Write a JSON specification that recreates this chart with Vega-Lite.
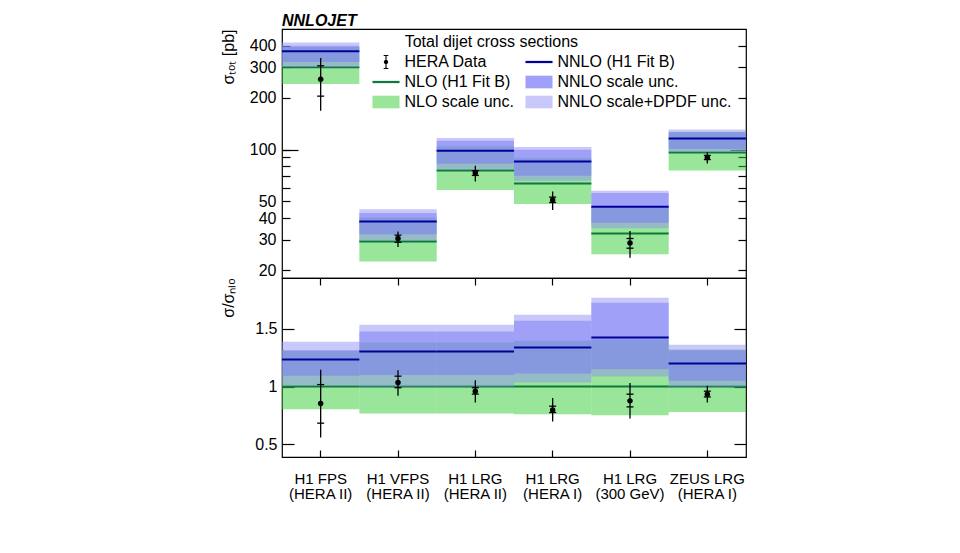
{
  "$schema": "https://vega.github.io/schema/vega-lite/v6.json",
  "background": "white",
  "padding": {"left": 219, "top": 12, "right": 5, "bottom": 5},
  "config": {
    "font": "Liberation Sans",
    "view": {"stroke": "black", "strokeWidth": 1.2},
    "axis": {"labelFont": "Liberation Sans", "labelFontSize": 16, "labelColor": "black", "tickColor": "black", "tickWidth": 1.2, "titleFont": "Liberation Sans", "titleFontSize": 16, "titleFontWeight": "normal", "titleColor": "black", "grid": false, "domain": false, "labelOverlap": false}
  },
  "datasets": {
    "bins": [
      {"bin": "H1 FPS (HERA II)", "nlo": 300, "nlo_lo": 240, "nlo_hi": 393, "nnlo": 372, "sc_lo": 322, "sc_hi": 400, "tot_lo": 301, "tot_hi": 418, "dat": 256, "st_lo": 204, "st_hi": 306, "er_lo": 168, "er_hi": 340,
       "r_nlo": 1, "r_nlo_lo": 0.804, "r_nlo_hi": 1.31, "r_nnlo": 1.234, "r_sc_lo": 1.093, "r_sc_hi": 1.315, "r_tot_lo": 1.006, "r_tot_hi": 1.387, "r_dat": 0.853, "r_st_lo": 0.683, "r_st_hi": 1.017, "r_er_lo": 0.558, "r_er_hi": 1.145},
      {"bin": "H1 VFPS (HERA II)", "nlo": 29.3, "nlo_lo": 22.4, "nlo_hi": 40.4, "nnlo": 38.3, "sc_lo": 32.3, "sc_hi": 42.9, "tot_lo": 29.6, "tot_hi": 45.1, "dat": 30.5, "st_lo": 29.0, "st_hi": 31.9, "er_lo": 27.2, "er_hi": 33.5,
       "r_nlo": 1, "r_nlo_lo": 0.766, "r_nlo_hi": 1.381, "r_nnlo": 1.303, "r_sc_lo": 1.099, "r_sc_hi": 1.477, "r_tot_lo": 1.0, "r_tot_hi": 1.535, "r_dat": 1.035, "r_st_lo": 0.99, "r_st_hi": 1.09, "r_er_lo": 0.92, "r_er_hi": 1.142},
      {"bin": "H1 LRG (HERA II)", "nlo": 75.7, "nlo_lo": 58.2, "nlo_hi": 104.5, "nnlo": 98.4, "sc_lo": 82.8, "sc_hi": 112.5, "tot_lo": 76.4, "tot_hi": 116.6, "dat": 73.1, "st_lo": 70.8, "st_hi": 75.4, "er_lo": 65.3, "er_hi": 80.5,
       "r_nlo": 1, "r_nlo_lo": 0.766, "r_nlo_hi": 1.381, "r_nnlo": 1.303, "r_sc_lo": 1.099, "r_sc_hi": 1.477, "r_tot_lo": 1.0, "r_tot_hi": 1.535, "r_dat": 0.96, "r_st_lo": 0.935, "r_st_hi": 0.99, "r_er_lo": 0.861, "r_er_hi": 1.055},
      {"bin": "H1 LRG (HERA I)", "nlo": 63.6, "nlo_lo": 48.3, "nlo_hi": 89, "nnlo": 85.3, "sc_lo": 70.6, "sc_hi": 99.8, "tot_lo": 65.9, "tot_hi": 103.5, "dat": 51.0, "st_lo": 49.3, "st_hi": 53.0, "er_lo": 44.6, "er_hi": 57.1,
       "r_nlo": 1, "r_nlo_lo": 0.761, "r_nlo_hi": 1.396, "r_nnlo": 1.338, "r_sc_lo": 1.113, "r_sc_hi": 1.569, "r_tot_lo": 1.035, "r_tot_hi": 1.621, "r_dat": 0.798, "r_st_lo": 0.775, "r_st_hi": 0.83, "r_er_lo": 0.697, "r_er_hi": 0.9},
      {"bin": "H1 LRG (300 GeV)", "nlo": 32.6, "nlo_lo": 24.7, "nlo_hi": 46, "nnlo": 46.6, "sc_lo": 37.6, "sc_hi": 55.9, "tot_lo": 35.0, "tot_hi": 57.7, "dat": 28.7, "st_lo": 26.8, "st_hi": 30.5, "er_lo": 23.6, "er_hi": 33.7,
       "r_nlo": 1, "r_nlo_lo": 0.752, "r_nlo_hi": 1.41, "r_nnlo": 1.425, "r_sc_lo": 1.15, "r_sc_hi": 1.725, "r_tot_lo": 1.087, "r_tot_hi": 1.769, "r_dat": 0.876, "r_st_lo": 0.824, "r_st_hi": 0.934, "r_er_lo": 0.723, "r_er_hi": 1.03},
      {"bin": "ZEUS LRG (HERA I)", "nlo": 96.2, "nlo_lo": 75.5, "nlo_hi": 127, "nnlo": 116, "sc_lo": 100.8, "sc_hi": 126, "tot_lo": 96.8, "tot_hi": 130.5, "dat": 90, "st_lo": 87.5, "st_hi": 92.5, "er_lo": 83, "er_hi": 96.5,
       "r_nlo": 1, "r_nlo_lo": 0.78, "r_nlo_hi": 1.32, "r_nnlo": 1.2, "r_sc_lo": 1.05, "r_sc_hi": 1.315, "r_tot_lo": 1.0, "r_tot_hi": 1.361, "r_dat": 0.934, "r_st_lo": 0.91, "r_st_hi": 0.96, "r_er_lo": 0.861, "r_er_hi": 1.006}
    ],
    "series": [
      {"series": "HERA Data"}, {"series": "NLO (H1 Fit B)"}, {"series": "NLO scale unc."},
      {"series": "NNLO (H1 Fit B)"}, {"series": "NNLO scale unc."}, {"series": "NNLO scale+DPDF unc."}
    ]
  },
  "data": {"name": "bins"},
  "vconcat": [
    {
      "width": 464,
      "height": 249,
      "title": {"text": "NNLOJET", "anchor": "start", "frame": "group", "font": "Liberation Sans", "fontSize": 16, "fontWeight": "bold", "fontStyle": "italic", "color": "black", "offset": -13.3, "baseline": "alphabetic"},
      "encoding": {"x": {"field": "bin", "type": "nominal", "sort": null, "scale": {"paddingInner": 0, "paddingOuter": 0}, "axis": null}},
      "layer": [
        {
          "mark": {"type": "rect", "opacity": 0.5, "color": "#33cc33"},
          "encoding": {
            "y": {"field": "nlo_lo", "type": "quantitative", "scale": {"type": "log", "domain": [18, 500], "nice": false},
              "axis": {"orient": "left", "values": [20, 30, 40, 50, 60, 70, 80, 90, 100, 200, 300, 400], "format": "d",
                "labelExpr": "indexof([60, 70, 80, 90], datum.value) >= 0 ? '' : datum.label",
                "tickSize": -8, "labelPadding": 14,
                "title": "σₜₒₜ [pb]", "titleAnchor": "end", "titleX": -54, "titleBaseline": "middle"}},
            "y2": {"field": "nlo_hi"}
          }
        },
        {
          "mark": {"type": "tick", "size": 77.4, "thickness": 2, "opacity": 1, "color": "#0b7a3a"},
          "encoding": {"y": {"field": "nlo", "type": "quantitative",
            "axis": {"orient": "left", "values": [100], "labels": false, "tickSize": -16, "title": null}}}
        },
        {
          "mark": {"type": "rect", "opacity": 0.5, "color": "#9191f5"},
          "encoding": {"y": {"field": "tot_lo", "type": "quantitative", "axis": null}, "y2": {"field": "tot_hi"}}
        },
        {
          "mark": {"type": "rect", "opacity": 0.5, "color": "#7878f5"},
          "encoding": {"y": {"field": "sc_lo", "type": "quantitative", "axis": null}, "y2": {"field": "sc_hi"}}
        },
        {
          "mark": {"type": "tick", "size": 77.4, "thickness": 2, "opacity": 1, "color": "#000099"},
          "encoding": {"y": {"field": "nnlo", "type": "quantitative",
            "axis": {"orient": "right", "values": [100], "labels": false, "tickSize": -16, "title": null}}}
        },
        {
          "mark": {"type": "rule", "strokeWidth": 1.3, "color": "black"},
          "encoding": {"y": {"field": "er_lo", "type": "quantitative", "axis": null}, "y2": {"field": "er_hi"}}
        },
        {
          "mark": {"type": "tick", "size": 7, "thickness": 1.3, "opacity": 1, "color": "black"},
          "encoding": {"y": {"field": "st_lo", "type": "quantitative", "axis": null}}
        },
        {
          "mark": {"type": "tick", "size": 7, "thickness": 1.3, "opacity": 1, "color": "black"},
          "encoding": {"y": {"field": "st_hi", "type": "quantitative", "axis": null}}
        },
        {
          "mark": {"type": "point", "filled": true, "shape": "circle", "size": 30, "opacity": 1, "color": "black"},
          "encoding": {
            "y": {"field": "dat", "type": "quantitative",
              "axis": {"orient": "right", "values": [20, 30, 40, 50, 60, 70, 80, 90, 100, 200, 300, 400], "labels": false, "tickSize": -8, "title": null}}
          }
        },
        {
          "data": {"name": "series"},
          "transform": [{"filter": "false"}],
          "mark": {"type": "point", "filled": true, "size": 256, "opacity": 1},
          "encoding": {
            "color": {"field": "series", "type": "nominal",
              "scale": {"domain": ["HERA Data", "NLO (H1 Fit B)", "NLO scale unc.", "NNLO (H1 Fit B)", "NNLO scale unc.", "NNLO scale+DPDF unc."],
                        "range": ["black", "#0b7a3a", "#99e699", "#000099", "#a0a0fa", "#c8c8fa"]},
              "legend": {"orient": "none", "legendX": 96, "legendY": 5, "columns": 2, "padding": 0,
                "title": "\u200b\u00a0\u00a0\u00a0\u00a0\u00a0\u00a0Total dijet cross sections", "titleFont": "Liberation Sans", "titleFontSize": 16, "titleFontWeight": "normal", "titleColor": "black", "titlePadding": 4, "titleLimit": 400,
                "labelFont": "Liberation Sans", "labelFontSize": 16, "labelColor": "black", "labelOffset": 10.5, "labelLimit": 300,
                "symbolSize": 256, "symbolOpacity": 1, "symbolStrokeWidth": 0, "rowPadding": 4, "columnPadding": 11}},
            "shape": {"field": "series", "type": "nominal",
              "scale": {"domain": ["HERA Data", "NLO (H1 Fit B)", "NLO scale unc.", "NNLO (H1 Fit B)", "NNLO scale unc.", "NNLO scale+DPDF unc."],
                        "range": [
                          "M-0.07,-0.81H0.07V0.81H-0.07Z M-0.29,-0.88H0.29V-0.74H-0.29Z M-0.29,0.74H0.29V0.88H-0.29Z M-0.27,0A0.27,0.27,0,1,1,0.27,0A0.27,0.27,0,1,1,-0.27,0Z",
                          "M-1.69,-0.14H1.69V0.14H-1.69Z",
                          "M-1.69,-0.79H1.69V0.79H-1.69Z",
                          "M-1.69,-0.14H1.69V0.14H-1.69Z",
                          "M-1.69,-0.79H1.69V0.79H-1.69Z",
                          "M-1.69,-0.79H1.69V0.79H-1.69Z"]},
              "legend": {"orient": "none", "legendX": 96, "legendY": 5, "columns": 2, "padding": 0,
                "title": "\u200b\u00a0\u00a0\u00a0\u00a0\u00a0\u00a0Total dijet cross sections", "titleFont": "Liberation Sans", "titleFontSize": 16, "titleFontWeight": "normal", "titleColor": "black", "titlePadding": 4, "titleLimit": 400,
                "labelFont": "Liberation Sans", "labelFontSize": 16, "labelColor": "black", "labelOffset": 10.5, "labelLimit": 300,
                "symbolSize": 256, "symbolOpacity": 1, "symbolStrokeWidth": 0, "rowPadding": 4, "columnPadding": 11}}
          }
        }
      ]
    },
    {
      "width": 464,
      "height": 179,
      "encoding": {"x": {"field": "bin", "type": "nominal", "sort": null, "scale": {"paddingInner": 0, "paddingOuter": 0}, "axis": null}},
      "layer": [
        {
          "mark": {"type": "rect", "opacity": 0.5, "color": "#33cc33"},
          "encoding": {
            "x": {"field": "bin", "type": "nominal", "sort": null,
              "axis": {"orient": "bottom", "tickSize": -7, "labelPadding": 21, "labelAngle": 0, "labelFontSize": 15, "labelLineHeight": 15, "labelLimit": 200, "title": null,
                "labelExpr": "[slice(datum.value, 0, indexof(datum.value, ' (')), slice(datum.value, indexof(datum.value, ' (') + 1)]"}},
            "y": {"field": "r_nlo_lo", "type": "quantitative", "scale": {"domain": [0.39, 1.94], "nice": false, "zero": false},
              "axis": {"orient": "left", "values": [0.5, 1, 1.5], "format": "~g", "tickSize": -12, "labelPadding": 17,
                "title": "σ/σₙₗₒ", "titleAnchor": "end", "titleX": -54, "titleBaseline": "middle"}},
            "y2": {"field": "r_nlo_hi"}
          }
        },
        {
          "mark": {"type": "tick", "size": 77.4, "thickness": 2, "opacity": 1, "color": "#0b7a3a"},
          "encoding": {"y": {"field": "r_nlo", "type": "quantitative", "axis": null}}
        },
        {
          "mark": {"type": "rect", "opacity": 0.5, "color": "#9191f5"},
          "encoding": {"y": {"field": "r_tot_lo", "type": "quantitative", "axis": null}, "y2": {"field": "r_tot_hi"}}
        },
        {
          "mark": {"type": "rect", "opacity": 0.5, "color": "#7878f5"},
          "encoding": {"y": {"field": "r_sc_lo", "type": "quantitative", "axis": null}, "y2": {"field": "r_sc_hi"}}
        },
        {
          "mark": {"type": "tick", "size": 77.4, "thickness": 2, "opacity": 1, "color": "#000099"},
          "encoding": {"y": {"field": "r_nnlo", "type": "quantitative", "axis": null}}
        },
        {
          "mark": {"type": "rule", "strokeWidth": 1.3, "color": "black"},
          "encoding": {"y": {"field": "r_er_lo", "type": "quantitative", "axis": null}, "y2": {"field": "r_er_hi"}}
        },
        {
          "mark": {"type": "tick", "size": 7, "thickness": 1.3, "opacity": 1, "color": "black"},
          "encoding": {"y": {"field": "r_st_lo", "type": "quantitative", "axis": null}}
        },
        {
          "mark": {"type": "tick", "size": 7, "thickness": 1.3, "opacity": 1, "color": "black"},
          "encoding": {"y": {"field": "r_st_hi", "type": "quantitative", "axis": null}}
        },
        {
          "mark": {"type": "point", "filled": true, "shape": "circle", "size": 30, "opacity": 1, "color": "black"},
          "encoding": {
            "x": {"field": "bin", "type": "nominal", "sort": null,
              "axis": {"orient": "top", "tickSize": -7, "labels": false, "title": null}},
            "y": {"field": "r_dat", "type": "quantitative",
              "axis": {"orient": "right", "values": [0.5, 1, 1.5], "labels": false, "tickSize": -12, "title": null}}
          }
        }
      ]
    }
  ],
  "spacing": 0,
  "bounds": "flush",
  "resolve": {"scale": {"color": "independent", "shape": "independent"}, "legend": {"color": "independent", "shape": "independent"}}
}
